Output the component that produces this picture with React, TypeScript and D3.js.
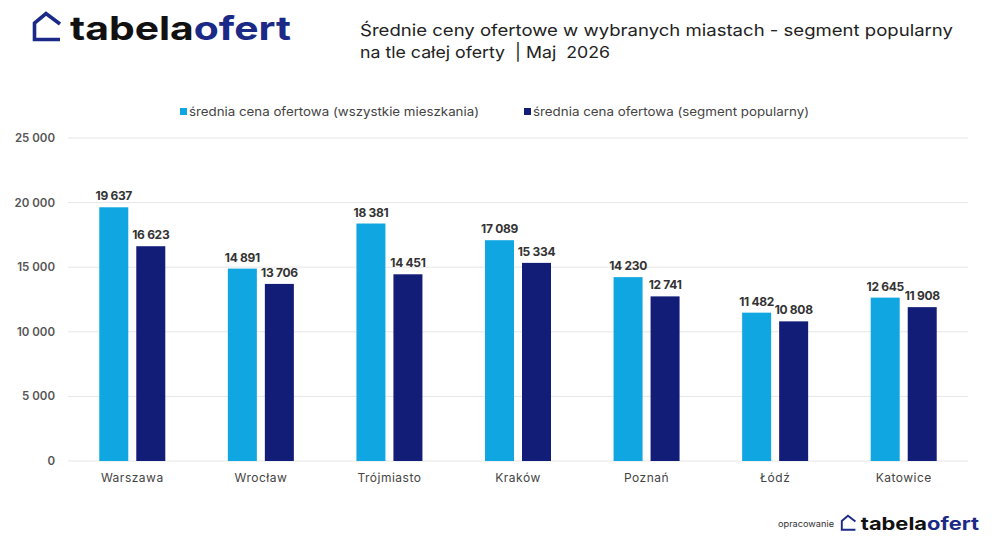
import React, { useEffect, useRef } from 'react';
import * as d3 from 'd3';

const cities = ['Warszawa', 'Wrocław', 'Trójmiasto', 'Kraków', 'Poznań', 'Łódź', 'Katowice'];
const allFlats = [19637, 14891, 18381, 17089, 14230, 11482, 12645];
const popularSegment = [16623, 13706, 14451, 15334, 12741, 10808, 11908];
const yTicks = [0, 5000, 10000, 15000, 20000, 25000];
const seriesNames = [
  'średnia cena ofertowa (wszystkie mieszkania)',
  'średnia cena ofertowa (segment popularny)',
];

const W = 1000;
const H = 540;
const font = 'Inter, "Noto Sans", sans-serif';
const colors = ['#10A6E1', '#121D78'];
const navy = '#1B2A86';

const fmt = (v: number) => d3.format(',')(v).replace(/,/g, ' ');

function drawLogo(g: d3.Selection<SVGGElement, unknown, null, undefined>, scale: number) {
  g.append('path')
    .attr('d', 'M27,12 L13,1.5 L1.5,11 L1.5,27.5 L27,27.5')
    .attr('fill', 'none')
    .attr('stroke', navy)
    .attr('stroke-width', 3.6)
    .attr('transform', `scale(${scale})`);
  const t = g.append('text')
    .attr('x', 37 * scale)
    .attr('y', 27.5 * scale)
    .attr('font-family', font)
    .attr('font-weight', 700)
    .attr('font-size', 33 * scale)
    .attr('textLength', 221 * scale)
    .attr('lengthAdjust', 'spacingAndGlyphs');
  t.append('tspan').attr('fill', '#111').text('tabela');
  t.append('tspan').attr('fill', navy).text('ofert');
}

const App = () => {
  const ref = useRef<SVGSVGElement>(null);

  useEffect(() => {
    const svg = d3.select(ref.current);
    svg.selectAll('*').remove();

    const margin = { left: 68, right: 32, top: 138, bottom: 79 };
    const x = d3.scaleBand().domain(cities).range([margin.left, W - margin.right]);
    const y = d3.scaleLinear().domain([0, 25000]).range([H - margin.bottom, margin.top]);
    const barW = 29;
    const gap = 8;

    // logo top-left
    drawLogo(svg.append('g').attr('transform', 'translate(33,12)'), 1);

    // title
    const title = svg.append('g')
      .attr('font-family', font)
      .attr('font-size', 16.5)
      .attr('fill', '#222');
    title.append('text').attr('x', 360).attr('y', 36)
      .attr('textLength', 593).attr('lengthAdjust', 'spacingAndGlyphs')
      .text('Średnie ceny ofertowe w wybranych miastach - segment popularny');
    title.append('text').attr('x', 360).attr('y', 58)
      .attr('textLength', 250).attr('lengthAdjust', 'spacingAndGlyphs')
      .text('na tle całej oferty \u00A0| Maj \u00A02026');

    // legend
    const legendX = [180, 524];
    const legendLen = [290, 276];
    seriesNames.forEach((name, i) => {
      svg.append('rect')
        .attr('x', legendX[i]).attr('y', 108)
        .attr('width', 7).attr('height', 7)
        .attr('fill', colors[i]);
      svg.append('text')
        .attr('x', legendX[i] + 9).attr('y', 116)
        .attr('font-family', font).attr('font-size', 12)
        .attr('fill', '#444')
        .attr('textLength', legendLen[i]).attr('lengthAdjust', 'spacingAndGlyphs')
        .text(name);
    });

    // grid + y labels
    svg.append('g')
      .selectAll('line')
      .data(yTicks)
      .join('line')
      .attr('x1', margin.left).attr('x2', W - margin.right)
      .attr('y1', d => y(d)).attr('y2', d => y(d))
      .attr('stroke', '#e6e6e6').attr('stroke-width', 1);

    svg.append('g')
      .selectAll('text')
      .data(yTicks)
      .join('text')
      .attr('x', 55).attr('y', d => y(d) + 4)
      .attr('text-anchor', 'end')
      .attr('font-family', font).attr('font-size', 11.5).attr('font-weight', 600)
      .attr('fill', '#555')
      .text(d => fmt(d));

    // bars
    const series = [allFlats, popularSegment];
    series.forEach((vals, si) => {
      const offset = si === 0 ? -gap / 2 - barW : gap / 2;
      const g = svg.append('g');
      g.selectAll('rect')
        .data(vals)
        .join('rect')
        .attr('x', (d, i) => x(cities[i])! + x.bandwidth() / 2 + offset)
        .attr('y', d => y(d))
        .attr('width', barW)
        .attr('height', d => y(0) - y(d))
        .attr('fill', colors[si]);
      g.selectAll('text')
        .data(vals)
        .join('text')
        .attr('x', (d, i) => x(cities[i])! + x.bandwidth() / 2 + offset + barW / 2)
        .attr('y', d => y(d) - 7)
        .attr('text-anchor', 'middle')
        .attr('font-family', font).attr('font-size', 12).attr('font-weight', 700)
        .attr('fill', '#333')
        .attr('letter-spacing', -0.3)
        .text(d => fmt(d));
    });

    // x labels
    svg.append('g')
      .selectAll('text')
      .data(cities)
      .join('text')
      .attr('x', d => x(d)! + x.bandwidth() / 2)
      .attr('y', 482)
      .attr('text-anchor', 'middle')
      .attr('font-family', font).attr('font-size', 12)
      .attr('letter-spacing', 0.5)
      .attr('fill', '#444')
      .text(d => d);

    // footer
    svg.append('text')
      .attr('x', 778).attr('y', 527)
      .attr('font-family', font).attr('font-size', 8.5)
      .attr('fill', '#333')
      .attr('textLength', 56).attr('lengthAdjust', 'spacingAndGlyphs')
      .text('opracowanie');
    drawLogo(svg.append('g').attr('transform', 'translate(841,515)'), 0.535);
  }, []);

  return (
    <svg ref={ref} width={W} height={H} style={{ display: 'block', position: 'absolute', left: 0, top: 0, background: '#fff' }} />
  );
};

export default App;
